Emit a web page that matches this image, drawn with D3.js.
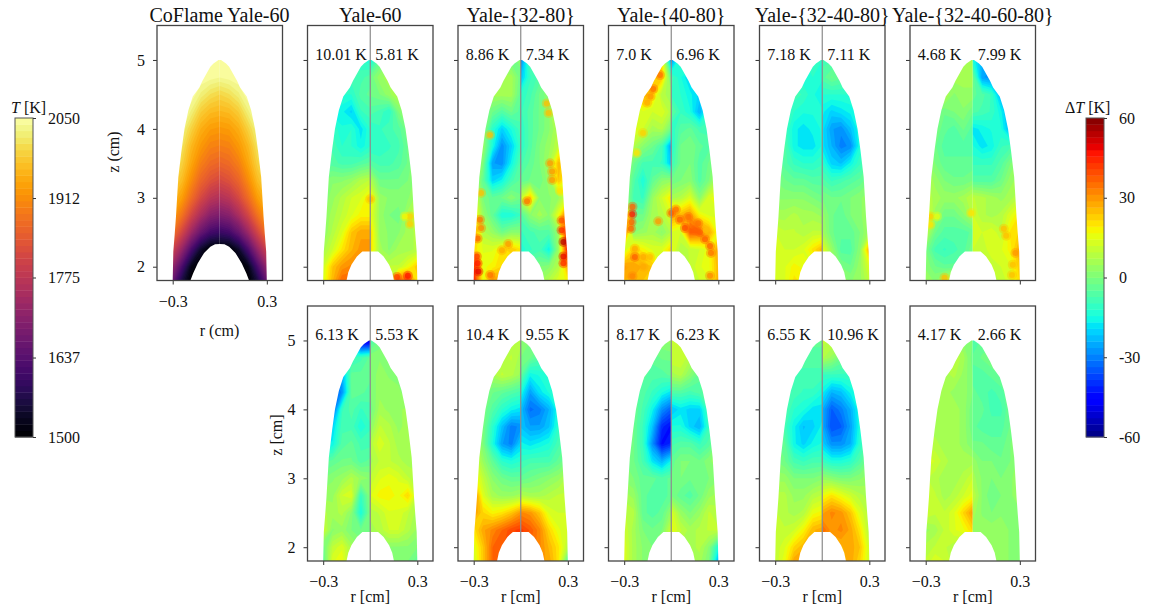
<!DOCTYPE html>
<html>
<head>
<meta charset="utf-8">
<script src="https://cdnjs.cloudflare.com/ajax/libs/d3/7.8.5/d3.min.js"></script>
<style>
body { margin: 0; background: #fff; }
text { font-family: "Liberation Serif", serif; fill: #111; }
</style>
</head>
<body>
<svg id="chart" width="1151" height="609"></svg>
<script>
// grid of each field: z of the rows, r of the columns
var zRows = [5, 4.75, 4.5, 4.25, 4, 3.75, 3.5, 3.25, 3, 2.75, 2.5, 2.25, 2, 1.8]

// flame outline, half width at each height
var outlineZ = [1.8, 2.22, 2.48, 2.73, 3, 3.3, 3.7, 4, 4.27, 4.47, 4.6, 4.7, 4.8, 4.9, 4.95, 5]
var outlineR = [0.3, 0.296, 0.287, 0.279, 0.272, 0.264, 0.243, 0.225, 0.2, 0.172, 0.13, 0.11, 0.085, 0.06, 0.04, 0.008]
var holeR = [0.151, 0.14, 0.12, 0.085, 0.05, 0]
var holeZ = [1.8, 1.92, 2.03, 2.15, 2.22, 2.22]
var coflameHoleR = [0.187, 0.17, 0.14, 0.1, 0.06, 0.03, 0]
var coflameHoleZ = [1.8, 1.9, 2.05, 2.2, 2.29, 2.325, 2.33]

// CoFlame temperature, half field from r=0 to r=0.3 (mirrored when drawn)
var coflameT = [
  [2050, 2050, 2050, 2050, 2050, 2050],
  [2040, 2045, 2050, 2050, 2050, 2050],
  [1995, 2005, 2025, 2050, 2050, 2050],
  [1960, 1965, 1985, 2025, 2050, 2050],
  [1925, 1930, 1950, 1990, 2030, 2050],
  [1895, 1900, 1925, 1960, 2010, 2040],
  [1860, 1870, 1895, 1940, 1990, 2020],
  [1815, 1830, 1860, 1910, 1965, 2000],
  [1760, 1775, 1815, 1870, 1930, 1965],
  [1690, 1705, 1750, 1810, 1880, 1930],
  [1600, 1615, 1660, 1730, 1810, 1880],
  [1500, 1500, 1540, 1620, 1720, 1800],
  [1500, 1500, 1500, 1520, 1620, 1720],
  [1500, 1500, 1500, 1500, 1560, 1660]
]

// temperature error, 6 columns r=-0.3..0 then 6 columns r=0..0.3
var yale60Top = [
  [-12,-12,-12,-12,-12,-14,-16,-4,2,4,4,4],
  [-8,-8,-8,-8,-8,-6,-2,4,6,6,6,6],
  [-12,-12,-12,-12,-6,-4,-2,0,4,8,8,8],
  [-16,-16,-16,-20,-10,-8,-6,-8,-12,0,6,6],
  [-10,-10,-14,-12,-18,-12,-12,-10,-8,-6,0,6],
  [-8,-8,-12,-12,-16,-12,-12,-12,-10,-8,-2,2],
  [-6,-6,-8,-8,-6,-4,-6,-8,-8,-6,-2,4],
  [0,2,2,4,8,10,8,-2,-2,-2,0,4],
  [0,4,8,12,14,20,20,4,2,2,2,6],
  [2,6,10,14,18,18,16,4,0,-2,6,14],
  [2,8,14,24,28,28,22,4,2,2,6,8],
  [6,12,20,26,30,30,22,6,2,6,6,8],
  [12,24,30,32,32,32,6,8,10,10,16,24],
  [14,26,36,36,36,36,8,8,8,34,38,20]
]
var yale3280Top = [
  [-2,-2,-2,-2,-2,2,-30,-6,-4,2,2,2],
  [4,4,4,6,6,-2,-22,-10,-6,2,4,4],
  [2,2,6,6,6,-4,-12,-8,-2,2,6,12],
  [4,2,-2,-6,-2,-6,-10,-6,-2,2,18,20],
  [2,4,-12,-20,-14,-8,-12,-6,-2,2,8,12],
  [4,4,-14,-28,-20,-10,-12,-6,0,4,10,14],
  [6,0,-26,-28,-16,-6,-8,-4,0,6,26,18],
  [10,-4,-20,-16,-8,-4,-4,-2,-2,4,24,16],
  [14,0,-4,-2,2,-2,10,24,2,2,4,14],
  [22,4,-4,-14,-14,-10,-6,2,6,2,16,38],
  [30,8,4,-2,2,2,-10,-8,-6,-6,4,50],
  [22,14,14,20,24,20,-14,-10,-8,-16,4,48],
  [42,16,18,22,14,14,-4,-2,0,2,8,28],
  [46,16,30,28,20,20,2,2,4,8,14,18]
]
var yale4080Top = [
  [14,14,14,14,20,-28,-28,-10,-8,-8,-8,-8],
  [10,10,10,24,24,-4,-8,-14,-20,-18,-10,-8],
  [20,20,28,22,8,6,-10,-12,-16,-20,-18,-10],
  [10,10,14,12,14,8,-4,-10,-14,-24,-12,-6],
  [16,16,12,6,8,-2,-12,-6,-4,-8,-8,-4],
  [14,8,2,-2,-8,-26,-14,-2,0,-4,-6,0],
  [8,-2,-8,-8,-10,-22,-10,-2,0,-6,-2,4],
  [6,-6,-14,-4,2,4,-2,0,2,-6,0,8],
  [6,-8,-10,4,12,20,6,8,14,2,14,16],
  [38,-2,-2,6,8,14,30,26,30,18,14,14],
  [36,2,4,6,2,8,14,12,38,36,28,16],
  [12,22,18,14,14,22,16,8,10,12,16,30],
  [30,28,26,24,14,14,8,6,10,14,16,26],
  [26,26,24,20,14,14,8,8,10,12,14,28]
]
var yale324080Top = [
  [-12,-12,-12,-12,-12,-12,-8,-8,-8,-8,-8,-8],
  [-12,-12,-12,-14,-12,-14,-6,-2,-4,-8,-10,-10],
  [-8,-8,-8,-10,-14,-16,-12,-12,-12,-12,-10,-8],
  [-6,-10,-12,-14,-14,-14,-16,-20,-18,-16,-12,-8],
  [-4,-8,-16,-18,-16,-14,-18,-26,-28,-22,-14,-8],
  [-4,-6,-16,-18,-18,-14,-18,-24,-30,-28,-14,-6],
  [-2,-6,-10,-12,-12,-10,-12,-20,-22,-16,-10,-4],
  [0,-2,-4,-4,-6,-6,-6,-10,-8,-6,-4,0],
  [2,2,2,2,0,-2,0,-2,-2,0,2,4],
  [6,6,8,6,6,4,4,-2,-4,0,2,4],
  [12,10,10,8,10,10,6,-2,-4,-4,0,6],
  [14,12,12,14,20,26,16,4,-6,-6,2,28],
  [14,14,18,16,14,14,8,4,0,-2,4,14],
  [12,14,20,18,14,14,8,6,4,2,4,10]
]
var yale32406080Top = [
  [8,8,8,8,8,6,-14,-24,-24,-24,-24,-24],
  [4,4,4,6,6,6,-2,-26,-28,-20,-20,-20],
  [4,4,8,2,4,4,-4,-6,-10,-24,-26,-26],
  [8,0,-2,0,2,-2,-6,-8,-10,-16,-26,-26],
  [2,0,-4,-6,-2,-6,-18,-16,-14,-14,-24,-24],
  [2,-2,-6,-6,-6,-6,-14,-18,-16,-10,-8,-8],
  [4,0,-4,-4,-4,-4,-10,-10,-10,-6,0,4],
  [8,4,0,-2,-2,0,-6,-6,-6,-2,4,6],
  [10,6,4,4,6,10,10,8,6,4,6,10],
  [20,4,-2,-2,2,8,12,8,6,8,14,20],
  [10,-2,-6,-6,-6,-4,14,12,14,10,20,22],
  [0,-8,-10,-8,-6,0,12,10,14,14,18,28],
  [2,-2,-4,-4,-4,-2,4,6,10,12,14,24],
  [4,2,8,20,8,4,4,6,8,10,14,22]
]
var yale60Bottom = [
  [-12,-16,-20,-24,-50,-52,-8,-2,0,0,0,0],
  [-10,-10,-10,-10,-8,-4,2,2,0,-2,2,2],
  [-30,-30,-24,-4,-4,-4,0,4,2,0,2,2],
  [-38,-36,-28,-4,-4,-6,0,4,4,4,-2,4],
  [-34,-34,-10,-6,-10,-8,-2,6,4,4,6,6],
  [-20,-20,-8,-8,-14,-10,2,10,8,4,6,6],
  [-18,-16,-6,-4,-8,-8,8,14,10,6,6,6],
  [-6,-4,-2,-2,-6,-4,6,10,10,8,6,6],
  [0,2,4,8,4,2,10,14,16,14,10,8],
  [4,4,12,14,-10,2,14,18,18,16,22,10],
  [8,6,8,2,-14,0,8,10,14,14,10,6],
  [12,2,4,0,-2,-2,6,8,12,12,8,4],
  [-2,10,14,6,2,2,2,2,2,2,2,0],
  [-4,14,16,6,2,2,0,0,0,0,0,-4]
]
var yale3280Bottom = [
  [6,6,6,6,8,8,0,0,0,0,0,0],
  [8,8,8,8,10,6,0,-2,-6,-8,-8,-8],
  [6,6,6,10,8,4,-4,-16,-14,-12,-10,-10],
  [2,2,-2,-4,-6,-8,-14,-26,-18,-14,-10,-8],
  [2,0,-6,-12,-16,-18,-22,-32,-30,-24,-14,-8],
  [4,0,-12,-22,-30,-28,-22,-26,-26,-22,-12,-6],
  [10,0,-14,-26,-30,-20,-16,-18,-16,-14,-8,-4],
  [14,4,-4,-12,-14,-12,-10,-8,-8,-8,-4,0],
  [20,10,2,-2,-4,-4,-4,-2,0,2,4,8],
  [34,14,6,4,4,6,8,6,6,8,10,10],
  [30,22,18,20,24,30,32,30,24,14,12,12],
  [20,28,32,36,40,42,42,38,32,22,15,12],
  [14,24,36,38,40,40,40,36,32,26,20,8],
  [12,24,36,38,40,40,38,34,30,28,20,-6]
]
var yale4080Bottom = [
  [0,0,0,0,2,4,10,10,10,10,10,10],
  [-2,-2,-4,-4,-2,-2,12,12,8,2,2,2],
  [-2,-2,-4,-6,-6,-4,6,8,2,-4,-4,-4],
  [-2,-4,-6,-10,-14,-18,-6,-6,-8,-6,-2,0],
  [-2,-2,-8,-16,-28,-34,-22,-18,-20,-20,-8,-2],
  [0,-2,-10,-22,-40,-44,-14,-14,-20,-24,-10,0],
  [0,-2,-10,-28,-44,-40,-8,-6,-6,-10,-6,2],
  [0,-2,-8,-18,-24,-16,-4,0,0,-2,2,4],
  [2,0,-4,-4,-6,-4,-2,0,-2,-2,0,2],
  [6,4,-4,-6,-6,-4,0,-4,-6,-2,4,6],
  [10,8,-4,-6,-4,4,14,4,0,4,10,8],
  [12,6,0,-2,0,12,16,10,6,8,10,10],
  [14,6,2,0,2,8,6,6,6,8,2,-14],
  [14,6,2,0,2,6,4,4,4,6,0,-24]
]
var yale324080Bottom = [
  [-4,-4,-4,-4,-4,-4,10,10,10,10,10,10],
  [-6,-6,-6,-6,-6,-6,8,4,-2,-6,-6,-6],
  [-8,-8,-8,-8,-8,-8,-10,-10,-10,-10,-8,-6],
  [-8,-8,-8,-10,-10,-14,-16,-24,-22,-16,-12,-8],
  [-6,-6,-12,-14,-18,-18,-24,-34,-30,-24,-14,-8],
  [-4,-8,-16,-22,-20,-16,-24,-36,-34,-26,-14,-6],
  [-2,-4,-16,-20,-16,-14,-20,-28,-28,-24,-12,-4],
  [0,-2,-8,-10,-8,-8,-10,-14,-14,-12,-6,0],
  [4,4,0,0,0,2,4,2,0,0,2,4],
  [8,8,4,4,8,10,16,20,16,12,8,6],
  [10,8,6,8,16,18,28,32,30,24,14,8],
  [10,10,12,18,26,28,36,30,32,28,20,8],
  [10,14,22,26,28,26,28,26,26,28,24,12],
  [10,16,28,30,28,26,24,24,24,28,22,12]
]
var yale32406080Bottom = [
  [2,2,2,2,2,0,-8,-4,-4,-4,-4,-4],
  [8,8,8,10,6,-2,-4,-2,0,2,2,2],
  [4,4,6,8,4,0,-6,-6,-4,-2,0,2],
  [4,4,6,4,4,0,-4,-6,-8,-6,-2,2],
  [4,6,6,6,4,-2,-4,-4,-8,-8,-2,2],
  [6,6,6,6,4,-2,-4,-6,-6,-6,-2,2],
  [8,8,6,6,4,0,-2,-2,-4,-4,0,2],
  [14,12,8,6,6,6,4,0,0,-2,0,4],
  [10,8,6,6,8,12,6,2,0,0,2,4],
  [12,10,6,8,12,16,10,2,-2,0,2,4],
  [12,10,10,14,22,30,6,2,0,2,2,2],
  [4,6,10,14,16,22,4,4,4,4,2,2],
  [8,10,10,8,6,6,4,4,4,4,2,0],
  [10,14,12,8,6,6,4,4,4,4,2,0]
]

// hot spots at single measurement points: r, z, error
var spotsYale60 = [[0.253,2.73,22],[0.22,2.73,18],[0.253,2.62,22],[0.24,1.87,46],[0.17,1.85,42],[0,2.98,26]]
var spotsYale3280 = [
  [0.166,4.37,26],[0.177,4.23,26],[-0.196,3.91,26],[0.187,3.5,30],[0.2,3.38,30],[0.2,3.26,30],
  [0.04,2.95,34],[0.25,3.1,20],[-0.253,3.07,24],[-0.26,2.68,34],[-0.253,2.56,32],[-0.275,2.41,36],
  [-0.28,2.15,42],[-0.275,2.05,46],[-0.27,1.93,50],[0.26,2.67,40],[0.26,2.53,44],[0.272,2.36,55],
  [0.272,2.15,48],[0.272,2.05,44],[-0.12,2.24,28],[-0.08,2.33,30],[-0.195,1.88,34]
]
var spotsYale4080 = [
  [-0.072,4.78,34],[-0.115,4.58,34],[-0.132,4.47,30],[-0.153,4.38,28],[-0.18,3.94,22],[-0.22,3.65,20],
  [-0.247,2.87,36],[-0.249,2.76,46],[-0.253,2.65,38],[-0.257,2.55,36],[-0.232,2.14,36],[-0.232,2.26,28],
  [-0.178,2.14,28],[-0.136,2.14,26],[-0.27,2,28],[-0.247,1.86,32],[-0.178,2,28],[-0.083,2.66,30],
  [0,2.78,36],[0.03,2.83,34],[0.055,2.68,36],[0.108,2.72,34],[0.087,2.56,40],[0.15,2.53,38],
  [0.183,2.5,38],[0.172,2.63,34],[0.215,2.4,36],[0.247,2.3,38],[0.253,2.2,34],[0.247,1.87,32],[0.22,2.53,26]
]
var spotsYale32406080 = [
  [-0.27,2.73,22],[-0.27,2.61,20],[-0.228,2.73,16],[-0.01,2.78,20],[0.198,2.55,24],[0.213,2.45,26],
  [0.272,2.2,30],[0.255,2.03,24],[0.25,1.88,24],[-0.18,1.84,26]
]

var panelTitles = ["Yale-60", "Yale-{32-80}", "Yale-{40-80}", "Yale-{32-40-80}", "Yale-{32-40-60-80}"]
var topFields = [yale60Top, yale3280Top, yale4080Top, yale324080Top, yale32406080Top]
var bottomFields = [yale60Bottom, yale3280Bottom, yale4080Bottom, yale324080Bottom, yale32406080Bottom]
var topSpots = [spotsYale60, spotsYale3280, spotsYale4080, [], spotsYale32406080]
var topLeftErrors = ["10.01 K", "8.86 K", "7.0 K", "7.18 K", "4.68 K"]
var topRightErrors = ["5.81 K", "7.34 K", "6.96 K", "7.11 K", "7.99 K"]
var bottomLeftErrors = ["6.13 K", "10.4 K", "8.17 K", "6.55 K", "4.17 K"]
var bottomRightErrors = ["5.53 K", "9.55 K", "6.23 K", "10.96 K", "2.66 K"]

var tempBarTicks = [1500, 1637, 1775, 1912, 2050]
var errorBarTicks = [-60, -30, 0, 30, 60]

var dimensions = { width: 125.5, height: 255 }
var panelLefts = [307.5, 458, 608.5, 759.5, 910]
var topRow = 25.5
var bottomRow = 306
var nLevels = 50

var svg = d3.select("#chart")

var rScale = d3.scaleLinear().domain([-0.4, 0.4]).range([0, dimensions.width])
var zScale = d3.scaleLinear().domain([1.8, 5.5]).range([dimensions.height, 0])

// matplotlib jet
var jetStops = {
  r: [[0, 0], [0.35, 0], [0.66, 1], [0.89, 1], [1, 0.5]],
  g: [[0, 0], [0.125, 0], [0.375, 1], [0.64, 1], [0.91, 0], [1, 0]],
  b: [[0, 0.5], [0.11, 1], [0.34, 1], [0.65, 0], [1, 0]]
}
function channel(stops) {
  return d3.scaleLinear().domain(stops.map(d => d[0])).range(stops.map(d => d[1])).clamp(true)
}
var jetR = channel(jetStops.r), jetG = channel(jetStops.g), jetB = channel(jetStops.b)
function jet(t) {
  return d3.rgb(jetR(t) * 255, jetG(t) * 255, jetB(t) * 255).formatHex()
}

var errorNorm = d3.scaleLinear().domain([-60, 60])
var tempNorm = d3.scaleLinear().domain([1500, 2050])
var errorLevels = d3.range(nLevels).map(i => -60 + i * 120 / nLevels)
var tempLevels = d3.range(nLevels).map(i => 1500 + i * 550 / nLevels)
function errorColor(v) {
  var i = Math.min(nLevels - 1, Math.floor(errorNorm(v) * nLevels))
  return jet((i + 0.5) / nLevels)
}
function tempColor(v) {
  var i = Math.min(nLevels - 1, Math.floor(tempNorm(v) * nLevels))
  return d3.interpolateInferno((i + 0.5) / nLevels)
}

// the flame with its cut-out, as one closed polygon
function flamePoints(innerR, innerZ) {
  var pts = []
  outlineR.forEach((r, i) => pts.push([-r, outlineZ[i]]))
  for (var i = outlineR.length - 1; i >= 0; i--) pts.push([outlineR[i], outlineZ[i]])
  innerR.forEach((r, i) => pts.push([r, innerZ[i]]))
  for (var j = innerR.length - 2; j >= 0; j--) pts.push([-innerR[j], innerZ[j]])
  return pts
}
var flameLine = d3.line().x(d => rScale(d[0])).y(d => zScale(d[1]))

// masks, not clip paths: stacked contour layers would leave a dark fringe on a clip edge
var defs = svg.append("defs")
function addMask(id) {
  return defs.append("mask").attr("id", id).attr("maskUnits", "userSpaceOnUse")
    .attr("x", 0).attr("y", 0).attr("width", dimensions.width).attr("height", dimensions.height)
}
addMask("flame").append("path").attr("fill", "#fff").attr("d", flameLine(flamePoints(holeR, holeZ)) + "Z")
addMask("coflame").append("path").attr("fill", "#fff").attr("d", flameLine(flamePoints(coflameHoleR, coflameHoleZ)) + "Z")
addMask("halfL").append("rect").attr("fill", "#fff").attr("x", 0).attr("y", 0).attr("width", rScale(0)).attr("height", dimensions.height)
addMask("halfR").append("rect").attr("fill", "#fff").attr("x", rScale(0)).attr("y", 0).attr("width", dimensions.width - rScale(0)).attr("height", dimensions.height)

var rowScale = d3.scaleLinear().domain(zRows.map((z, i) => i + 0.5)).range(zRows)

function drawHalf(g, rows, fromR, toR, maskId, levels, color) {
  var values = []
  rows.forEach(row => row.forEach(v => values.push(v)))
  var nCols = rows[0].length
  var colScale = d3.scaleLinear().domain([0.5, nCols - 0.5]).range([fromR, toR])
  var path = d3.geoPath(d3.geoTransform({
    point: function(x, y) { this.stream.point(rScale(colScale(x)), zScale(rowScale(y))) }
  }))
  var contours = d3.contours().size([nCols, rows.length]).thresholds(levels)(values)
  g.append("g").attr("mask", "url(#" + maskId + ")")
    .selectAll("path").data(contours).enter().append("path")
    .attr("d", path)
    .attr("fill", d => color(d.value + 0.001))
    .attr("stroke", "none")
}

function drawFrame(g, showX, showY) {
  var xAxisgen = d3.axisBottom(rScale).tickValues([-0.3, 0.3]).tickSize(4).tickPadding(11)
    .tickFormat(showX ? (d => d < 0 ? "\u22120.3" : "0.3") : "")
  var yAxisgen = d3.axisLeft(zScale).tickValues([2, 3, 4, 5]).tickSize(4).tickPadding(8)
    .tickFormat(showY ? d3.format("d") : "")
  var xAxis = g.append("g").attr("transform", "translate(0," + dimensions.height + ")").call(xAxisgen)
  var yAxis = g.append("g").call(yAxisgen)
  ;[xAxis, yAxis].forEach(a => {
    a.select(".domain").remove()
    a.selectAll("line").attr("stroke", "#333").attr("stroke-width", 1)
    a.selectAll("text").style("font-family", "Liberation Serif").style("font-size", "16px").attr("fill", "#111")
  })
  g.append("rect").attr("width", dimensions.width).attr("height", dimensions.height)
    .attr("fill", "none").attr("stroke", "#444").attr("stroke-width", 1.3)
}

function drawErrorPanel(x, y, rows, spots, leftLabel, rightLabel, centerLine, showX, showY) {
  var g = svg.append("g").attr("transform", "translate(" + x + "," + y + ")")
  var field = g.append("g").attr("mask", "url(#flame)")
  drawHalf(field, rows.map(r => r.slice(0, 6)), -0.3, 0, "halfL", errorLevels, errorColor)
  drawHalf(field, rows.map(r => r.slice(6)), 0, 0.3, "halfR", errorLevels, errorColor)
  // soft halo first, then the core of each spot
  field.selectAll("circle.halo").data(spots).enter().append("circle")
    .attr("class", "halo")
    .attr("cx", d => rScale(d[0]))
    .attr("cy", d => zScale(d[1]))
    .attr("r", 5)
    .attr("fill", d => errorColor(d[2]))
    .attr("fill-opacity", 0.4)
  field.selectAll("circle.core").data(spots).enter().append("circle")
    .attr("class", "core")
    .attr("cx", d => rScale(d[0]))
    .attr("cy", d => zScale(d[1]))
    .attr("r", 3)
    .attr("fill", d => errorColor(d[2]))
    .attr("fill-opacity", 0.7)
  if (centerLine) {
    g.append("line").attr("x1", rScale(0)).attr("x2", rScale(0)).attr("y1", 0).attr("y2", dimensions.height)
      .attr("stroke", "#8a8a8a").attr("stroke-width", 1.2)
  }
  drawFrame(g, showX, showY)
  g.append("text").attr("x", rScale(-0.35)).attr("y", zScale(5)).style("font-size", "16px").text(leftLabel)
  g.append("text").attr("x", rScale(0.032)).attr("y", zScale(5)).style("font-size", "16px").text(rightLabel)
}

// coflame panel
var coflameG = svg.append("g").attr("transform", "translate(157," + topRow + ")")
var coflameField = coflameG.append("g").attr("mask", "url(#coflame)")
drawHalf(coflameField, coflameT.map(r => r.slice().reverse()), -0.3, 0, "halfL", tempLevels, tempColor)
drawHalf(coflameField, coflameT, 0, 0.3, "halfR", tempLevels, tempColor)
drawFrame(coflameG, true, true)
svg.append("text").attr("x", 219.5).attr("y", 22).attr("text-anchor", "middle").style("font-size", "20px").text("CoFlame Yale-60")
svg.append("text").attr("x", 219.5).attr("y", 336).attr("text-anchor", "middle").style("font-size", "16px").text("r (cm)")
svg.append("text").attr("transform", "translate(119,152) rotate(-90)").attr("text-anchor", "middle").style("font-size", "16px").text("z (cm)")

// error panels
panelTitles.forEach((title, i) => {
  var last = i == panelTitles.length - 1
  drawErrorPanel(panelLefts[i], topRow, topFields[i], topSpots[i], topLeftErrors[i], topRightErrors[i], !last, false, false)
  drawErrorPanel(panelLefts[i], bottomRow, bottomFields[i], [], bottomLeftErrors[i], bottomRightErrors[i], !last, true, i == 0)
  svg.append("text").attr("x", panelLefts[i] + rScale(0)).attr("y", 22).attr("text-anchor", "middle").style("font-size", "20px").text(title)
  svg.append("text").attr("x", panelLefts[i] + rScale(0)).attr("y", 602).attr("text-anchor", "middle").style("font-size", "16px").text("r [cm]")
})
svg.append("text").attr("transform", "translate(282,435) rotate(-90)").attr("text-anchor", "middle").style("font-size", "16px").text("z [cm]")

// colour bars
function drawBar(x, levels, step, domain, ticks, color, textX) {
  var barY = d3.scaleLinear().domain(domain).range([437, 118])
  var g = svg.append("g")
  g.selectAll("rect").data(levels).enter().append("rect")
    .attr("x", x).attr("width", 18)
    .attr("y", d => barY(d + step))
    .attr("height", d => barY(d) - barY(d + step) + 0.4)
    .attr("fill", d => color(d + step / 2))
  g.append("rect").attr("x", x).attr("y", 118).attr("width", 18).attr("height", 319)
    .attr("fill", "none").attr("stroke", "#555").attr("stroke-width", 1)
  var axis = d3.axisRight(barY).tickValues(ticks).tickSize(3).tickPadding(textX - x - 21).tickFormat(String)
  var axisG = g.append("g").attr("transform", "translate(" + (x + 18) + ",0)").call(axis)
  axisG.select(".domain").remove()
  axisG.selectAll("line").attr("stroke", "#333")
  axisG.selectAll("text").style("font-family", "Liberation Serif").style("font-size", "16px").attr("fill", "#111")
}
drawBar(15, tempLevels, 11, [1500, 2050], tempBarTicks, tempColor, 48)
drawBar(1086, errorLevels, 2.4, [-60, 60], errorBarTicks, errorColor, 1119)

var tLabel = svg.append("text").attr("x", 11).attr("y", 113).style("font-size", "16px")
tLabel.append("tspan").style("font-style", "italic").text("T")
tLabel.append("tspan").text(" [K]")
var dLabel = svg.append("text").attr("x", 1065).attr("y", 113).style("font-size", "16px")
dLabel.append("tspan").text("\u0394")
dLabel.append("tspan").style("font-style", "italic").text("T")
dLabel.append("tspan").text(" [K]")
</script>
</body>
</html>
